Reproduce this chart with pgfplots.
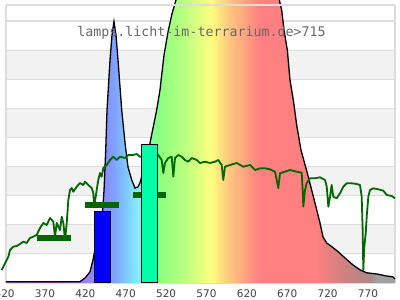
\documentclass[border=0pt]{standalone}
\usepackage{pgfplots}
\pgfplotsset{compat=1.18}
\usepackage{pgfplotstable}
\usepackage{fontspec}
\setmainfont{DejaVu Sans}
\newfontfamily\monofont{DejaVu Sans Mono}
\definecolor{bandgray}{HTML}{F2F2F2}
\definecolor{gridgray}{HTML}{DCDCDC}
\definecolor{tickgray}{HTML}{404040}
\definecolor{titlegray}{HTML}{666666}
\definecolor{sungreen}{HTML}{006600}
\definecolor{teal}{HTML}{00FFA8}
\definecolor{c01}{HTML}{B070C0}
\definecolor{c02}{HTML}{A050B0}
\definecolor{c03}{HTML}{A070E0}
\definecolor{c04}{HTML}{A080FF}
\definecolor{c05}{HTML}{8888FF}
\definecolor{c06}{HTML}{80A0FF}
\definecolor{c07}{HTML}{80D0FF}
\definecolor{c08}{HTML}{80F0FF}
\definecolor{c09}{HTML}{80FFC0}
\definecolor{c10}{HTML}{88FF80}
\definecolor{c11}{HTML}{C0FF80}
\definecolor{c12}{HTML}{FFFF80}
\definecolor{c13}{HTML}{FFC880}
\definecolor{c14}{HTML}{FFA080}
\definecolor{c15}{HTML}{FF8080}
\definecolor{c16}{HTML}{FF8080}
\definecolor{c17}{HTML}{D08080}
\definecolor{c18}{HTML}{B08888}
\definecolor{c19}{HTML}{A0A0A0}
% position = 25 + (nm-321.7)*0.1038
\pgfdeclarehorizontalshading{spec}{100bp}{%
color(0bp)=(c01); color(25bp)=(c01);
color(31.05bp)=(c02);
color(33.65bp)=(c03);
color(35.2bp)=(c04);
color(37.28bp)=(c05);
color(38.84bp)=(c06);
color(40.7bp)=(c07);
color(41.95bp)=(c08);
color(43.0bp)=(c09);
color(44.5bp)=(c10);
color(48.2bp)=(c11);
color(51.3bp)=(c12);
color(53.6bp)=(c13);
color(55.9bp)=(c14);
color(57.6bp)=(c15);
color(64.8bp)=(c16);
color(68.4bp)=(c17);
color(71.8bp)=(c18);
color(72.6bp)=(c19);
color(75bp)=(c19); color(100bp)=(c19)}
\pgfplotstableread{
nm val
321.7 0.045
413.3 0.045
419.5 0.17
425.7 0.38
429.4 0.79
433.1 1.31
438.1 2.16
441.5 2.51
443.1 3.19
445.2 4.57
446.8 5.94
450.5 7.66
453.0 8.52
455.4 8.98
457.9 8.52
460.4 7.66
465.0 5.94
469.1 4.81
472.8 3.98
477.4 3.54
481.5 3.26
485.2 3.30
487.6 3.44
489.7 3.64
495.1 4.23
500.0 4.80
508.3 5.94
512.4 6.63
517.4 7.83
522.3 8.62
527.2 9.24
532.2 9.72
537.2 10.24
544.6 11.10
562.0 12.30
592.9 12.64
623.9 12.30
651.1 11.27
656.1 10.41
660.2 9.72
663.1 9.38
666.0 8.69
670.1 8.00
673.4 6.97
677.5 6.29
681.7 5.42
687.0 4.57
693.8 3.88
700.3 3.19
706.5 2.51
710.6 2.06
714.3 1.58
718.9 1.37
725.0 1.25
732.8 1.08
741.5 0.86
751.4 0.62
760.1 0.45
768.4 0.35
780.8 0.31
793.1 0.24
800.9 0.21
803.4 0.14
}\lamp
\pgfplotstableread{
nm val
316.4 0.447
320.5 0.677
324.6 0.903
326.7 1.134
330.7 1.247
334.9 1.271
339.0 1.340
343.1 1.419
347.3 1.374
351.4 1.546
355.5 1.591
359.7 1.649
363.8 1.889
367.9 2.061
372.1 1.992
376.2 2.233
380.3 2.106
382.4 1.591
384.5 2.061
388.6 1.821
390.7 2.278
392.7 2.061
394.8 1.477
396.9 2.061
398.9 2.851
401.0 3.195
403.1 3.263
405.0 3.136
409.3 3.308
413.3 3.435
417.4 3.367
419.5 3.480
423.6 3.367
427.8 3.263
429.8 3.092
431.0 2.621
434.0 3.195
436.0 3.538
438.1 3.779
440.2 3.652
442.2 3.950
446.4 4.054
450.5 4.225
454.6 4.339
458.8 4.225
462.9 4.339
469.1 4.294
473.2 4.397
479.0 4.397
483.6 4.431
487.6 4.339
500.0 4.397
510.3 4.397
514.5 4.225
516.5 3.779
518.6 4.122
522.7 4.294
526.9 4.339
528.9 3.652
531.0 4.294
535.1 4.397
539.3 4.339
543.4 4.225
547.5 4.167
551.7 4.294
557.9 4.225
562.0 4.122
568.1 4.167
574.3 4.122
580.5 4.167
584.6 4.225
588.8 4.054
590.8 3.538
592.9 3.995
599.1 4.054
607.4 4.122
615.6 3.995
623.9 4.054
630.1 3.882
636.3 3.940
642.4 3.940
648.6 3.906
654.8 3.823
656.9 3.538
658.9 3.263
661.0 3.768
667.2 3.823
673.4 3.882
681.7 3.823
687.9 3.789
689.1 3.195
689.9 2.621
692.0 3.195
694.1 3.435
698.2 3.597
704.4 3.597
710.6 3.631
716.8 3.538
718.9 3.308
720.9 2.621
723.0 2.965
725.0 3.367
727.0 2.965
731.2 2.910
735.3 3.081
739.4 3.308
743.6 3.425
749.8 3.425
756.0 3.401
760.1 3.367
762.2 2.965
763.4 1.821
764.2 0.447
765.4 1.247
767.2 1.707
768.4 2.278
770.4 2.965
772.5 3.195
776.6 3.253
782.8 3.219
789.0 3.171
793.2 3.023
799.4 2.989
803.4 2.910
}\sun
\begin{document}
\begin{tikzpicture}
\begin{axis}[
  scale only axis,
  width=396pt, height=284pt,
  xmin=314.27, xmax=804.68,
  ymin=-0.0344, ymax=9.722,
  axis line style={draw=none},
  ytick=\empty,
  xtick={370,420,470,520,570,620,670,720,770},
  xticklabels={370,420,470,520,570,620,670,720,770},
  major tick length=0pt,
  xticklabel style={anchor=base, yshift=-14pt, inner sep=0pt,
    font=\fontsize{10.5}{12}\selectfont, text=tickgray},
  clip=true,
]
\coordinate (SW) at (rel axis cs:0,0);
\coordinate (NE) at (rel axis cs:1,1);
\coordinate (L320) at (axis cs:320,-0.0344);
% bands
\fill[bandgray] (axis cs:321.7,1) rectangle (axis cs:803.4,2);
\fill[bandgray] (axis cs:321.7,3) rectangle (axis cs:803.4,4);
\fill[bandgray] (axis cs:321.7,5) rectangle (axis cs:803.4,6);
\fill[bandgray] (axis cs:321.7,7) rectangle (axis cs:803.4,8);
% grid lines
\draw[gridgray, line width=1.2pt] (axis cs:321.7,0) -- (axis cs:803.4,0);
\draw[gridgray, line width=1.2pt] (axis cs:321.7,1) -- (axis cs:803.4,1);
\draw[gridgray, line width=1.2pt] (axis cs:321.7,2) -- (axis cs:803.4,2);
\draw[gridgray, line width=1.2pt] (axis cs:321.7,3) -- (axis cs:803.4,3);
\draw[gridgray, line width=1.2pt] (axis cs:321.7,4) -- (axis cs:803.4,4);
\draw[gridgray, line width=1.2pt] (axis cs:321.7,5) -- (axis cs:803.4,5);
\draw[gridgray, line width=1.2pt] (axis cs:321.7,6) -- (axis cs:803.4,6);
\draw[gridgray, line width=1.2pt] (axis cs:321.7,7) -- (axis cs:803.4,7);
\draw[gridgray, line width=1.2pt] (axis cs:321.7,8) -- (axis cs:803.4,8);
\draw[gridgray, line width=1.2pt] (axis cs:321.7,9) -- (axis cs:803.4,9);
\draw[gridgray, line width=1.2pt] (axis cs:321.7,0) -- (axis cs:321.7,9.55);
\draw[gridgray, line width=1.2pt] (axis cs:803.4,0) -- (axis cs:803.4,9.55);
% lamp spectrum
\addplot[draw=none, shade, shading=spec] table[x=nm,y=val]{\lamp} \closedcycle;
\addplot[black, line width=1.3pt, no markers] table[x=nm,y=val]{\lamp};
\draw[gridgray, line width=1.2pt] (axis cs:321.7,9.55) -- (axis cs:803.4,9.55);
% sun spectrum
\addplot[sungreen, line width=1.8pt, no markers, line join=round] table[x=nm,y=val]{\sun};
% band averages
\addplot[sungreen, line width=6pt, line cap=butt, no markers] coordinates {(360,1.535) (402,1.535)};
\addplot[sungreen, line width=6pt, line cap=butt, no markers] coordinates {(419.5,2.67) (461.6,2.67)};
\addplot[sungreen, line width=6pt, line cap=butt, no markers] coordinates {(479.4,3.04) (519.9,3.04)};
% lamp bars
\addplot[fill=blue, draw=black, line width=1pt, no markers] coordinates {(431.0,0) (431.0,2.47) (450.8,2.47) (450.8,0)} -- cycle;
\addplot[fill=teal, draw=black, line width=1pt, no markers] coordinates {(489.0,0) (489.0,4.765) (509.6,4.765) (509.6,0)} -- cycle;
\node[anchor=base, inner sep=0pt, font=\monofont\fontsize{13.3}{15}\selectfont, text=titlegray]
  at (rel axis cs:0.5089,0.8708) {lamps.licht-im-terrarium.de>715};
\end{axis}
\node[anchor=base, inner sep=0pt, font=\fontsize{10.5}{12}\selectfont, text=tickgray] at ([yshift=-14pt]L320) {320};
\pgfresetboundingbox
\path[use as bounding box] ([yshift=-16pt]SW) rectangle ([xshift=4pt]NE);
\end{tikzpicture}
\end{document}
